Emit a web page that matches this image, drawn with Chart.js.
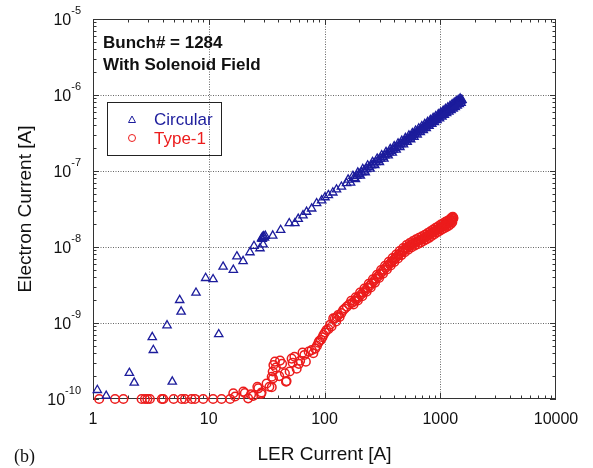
<!DOCTYPE html>
<html>
<head>
<meta charset="utf-8">
<script src="https://cdn.jsdelivr.net/npm/chart.js@4.4.1/dist/chart.umd.min.js"></script>
<style>
  html, body { margin: 0; padding: 0; background: #fff; }
</style>
</head>
<body>
<canvas id="myChart" width="593" height="468"></canvas>
<script>
// Circular chamber (triangles)
let circX = [1.09, 1.3, 2.06, 2.27, 3.25, 3.32, 4.36, 4.84, 5.61, 5.77,
  7.76, 9.4, 10.9, 12.2, 13.3, 16.3, 17.5, 19.8, 22.7, 24.6,
  27.7, 29.5, 28.6, 29.2, 29.8, 30.3, 29.0, 30.8, 35.7, 41.8,
  49.6, 55.5, 59.3, 65.2, 70, 77.5, 85.5, 94.5, 101, 108,
  118, 127, 140, 155,
  160, 168, 176, 185, 194, 204, 214, 225, 236, 248,
  260, 272, 285, 298, 312, 326, 340, 355, 370, 385,
  400, 416, 432, 448, 465, 482, 500, 518, 536, 555,
  574, 593, 612, 632, 652, 672, 693, 714, 735, 756,
  778, 800, 822, 845, 868, 891, 914, 938, 962, 986,
  1010, 1035, 1060, 1085, 1110, 1136, 1162, 1188, 1214, 1240,
  1267, 1294, 1321, 1348, 1375, 1402, 1430, 1458, 1486, 1514,
  1540,
  180, 190, 199, 209, 220, 230, 242, 254, 266, 278,
  291, 305, 319, 333, 347, 362, 377, 392, 408, 424,
  440, 456, 473, 491, 509, 527, 545, 564, 583, 602,
  622, 642, 662, 682, 703, 724, 745, 767, 789, 811,
  833, 856, 879, 902, 926, 950, 974, 998, 1022, 1047,
  1072, 1097, 1123, 1149, 1175, 1201, 1227, 1253, 1280, 1307,
  1334, 1361, 1388, 1416, 1444, 1472, 1500, 1527];
let circY = [1.31e-10, 1.1e-10, 2.2e-10, 1.64e-10, 6.5e-10, 4.4e-10, 9.3e-10, 1.69e-10, 2.0e-9, 1.41e-9,
  2.5e-9, 3.9e-9, 3.76e-9, 7.1e-10, 5.5e-9, 5.0e-9, 7.5e-9, 6.5e-9, 8.5e-9, 1.03e-8,
  9.6e-9, 1.08e-8, 1.3e-8, 1.35e-8, 1.38e-8, 1.33e-8, 1.28e-8, 1.4e-8, 1.41e-8, 1.67e-8,
  2.05e-8, 2.05e-8, 2.34e-8, 2.6e-8, 2.9e-8, 3.2e-8, 3.76e-8, 4.1e-8, 4.5e-8, 4.8e-8,
  5.2e-8, 5.7e-8, 6.2e-8, 6.9e-8,
  7.7e-8, 7.0e-8, 8.6e-8, 7.8e-8, 9.5e-8, 8.7e-8, 1.06e-7, 9.6e-8, 1.18e-7, 1.07e-7,
  1.31e-7, 1.19e-7, 1.45e-7, 1.31e-7, 1.61e-7, 1.45e-7, 1.77e-7, 1.60e-7, 1.94e-7, 1.74e-7,
  2.11e-7, 1.90e-7, 2.30e-7, 2.06e-7, 2.49e-7, 2.23e-7, 2.70e-7, 2.42e-7, 2.92e-7, 2.61e-7,
  3.14e-7, 2.81e-7, 3.38e-7, 3.01e-7, 3.62e-7, 3.23e-7, 3.87e-7, 3.45e-7, 4.13e-7, 3.67e-7,
  4.39e-7, 3.91e-7, 4.67e-7, 4.15e-7, 4.96e-7, 4.39e-7, 5.25e-7, 4.65e-7, 5.55e-7, 4.91e-7,
  5.85e-7, 5.18e-7, 6.17e-7, 5.45e-7, 6.50e-7, 5.74e-7, 6.83e-7, 6.02e-7, 7.17e-7, 6.32e-7,
  7.51e-7, 6.62e-7, 7.86e-7, 6.93e-7, 8.23e-7, 7.24e-7, 8.59e-7, 7.55e-7, 8.96e-7, 7.87e-7,
  8.6e-7,
  8.1e-8, 8.63e-8, 9.07e-8, 9.57e-8, 1.01e-7, 1.06e-7, 1.12e-7, 1.18e-7, 1.25e-7, 1.31e-7,
  1.38e-7, 1.45e-7, 1.52e-7, 1.60e-7, 1.67e-7, 1.75e-7, 1.83e-7, 1.91e-7, 2.0e-7, 2.08e-7,
  2.17e-7, 2.26e-7, 2.35e-7, 2.45e-7, 2.55e-7, 2.65e-7, 2.75e-7, 2.86e-7, 2.96e-7, 3.07e-7,
  3.18e-7, 3.29e-7, 3.41e-7, 3.52e-7, 3.64e-7, 3.76e-7, 3.88e-7, 4.01e-7, 4.13e-7, 4.26e-7,
  4.39e-7, 4.52e-7, 4.65e-7, 4.79e-7, 4.93e-7, 5.07e-7, 5.21e-7, 5.34e-7, 5.49e-7, 5.64e-7,
  5.78e-7, 5.93e-7, 6.09e-7, 6.24e-7, 6.40e-7, 6.56e-7, 6.72e-7, 6.87e-7, 7.03e-7, 7.19e-7,
  7.36e-7, 7.53e-7, 7.70e-7, 7.87e-7, 8.04e-7, 8.21e-7, 8.37e-7, 8.54e-7];

// Type-1 chamber (circles)
let typeX = [1.13, 1.55, 1.83, 2.63, 2.81, 2.95, 3.1, 3.93, 4.05, 4.97,
  5.84, 6.23, 7.1, 7.6, 8.95, 10.9, 12.9, 15.3,
  16.3, 16.9, 19.9, 20.5, 21.9, 23.2, 24.2, 26.3, 26.8, 28.3,
  28.6, 31.6, 33.4, 35.0, 35.0, 35.7, 35.9, 36.2, 37.3, 40.6,
  41.3, 45.5, 46.5, 47.0, 52, 53, 57.5, 61.6, 64.6, 69,
  77.5, 83, 88.6, 90, 96, 101, 104, 108, 115, 119,
  123, 126, 131, 135, 140, 145, 150, 156, 163,
  38, 43, 50, 55, 60, 67, 73, 80, 86, 93,
  98, 112, 128,
  170, 178, 186, 194, 203, 212, 221, 231, 241, 251,
  262, 273, 284, 296, 308, 320, 333, 346, 359, 373,
  387, 401, 416, 431, 446, 462, 478, 494, 511, 528,
  545, 563, 581, 599, 618, 637, 656, 676, 696, 716,
  737, 758, 779, 801, 823, 845, 868, 891, 914, 938,
  962, 986, 1010, 1035, 1060, 1085, 1110, 1135, 1160, 1185,
  1210, 1235, 1255, 1270, 1285, 1300,
  174, 182, 190, 198, 207, 216, 226, 236, 246, 256,
  267, 278, 290, 302, 314, 326, 339, 352, 366, 380,
  394, 408, 423, 438, 454, 470, 486, 502, 519, 536,
  554, 572, 590, 608, 627, 646, 666, 686, 706, 726,
  747, 768, 790, 812, 834, 856, 880, 902, 926, 950,
  974, 998, 1022, 1047, 1072, 1097, 1122, 1147, 1172, 1197,
  1222, 1245, 1262, 1278, 1292];
let typeY = [1e-10, 1e-10, 1e-10, 1e-10, 1e-10, 1e-10, 1e-10, 1e-10, 1e-10, 1e-10,
  1e-10, 1e-10, 1e-10, 1e-10, 1e-10, 1e-10, 1e-10, 1e-10,
  1.19e-10, 1.08e-10, 1.25e-10, 1.2e-10, 1.02e-10, 1.15e-10, 1.1e-10, 1.45e-10, 1.38e-10, 1.17e-10,
  1.22e-10, 1.6e-10, 1.45e-10, 1.43e-10, 1.96e-10, 2.3e-10, 1.87e-10, 2.8e-10, 3.1e-10, 2.0e-10,
  3.2e-10, 2.18e-10, 1.69e-10, 1.72e-10, 3.4e-10, 3.0e-10, 2.5e-10, 3.19e-10, 4.07e-10, 3.1e-10,
  4.4e-10, 4.6e-10, 5.5e-10, 5.8e-10, 6.5e-10, 7.5e-10, 8.1e-10, 8.3e-10, 9.0e-10, 1.15e-9,
  1.15e-9, 1.05e-9, 1.27e-9, 1.2e-9, 1.35e-9, 1.48e-9, 1.55e-9, 1.64e-9, 1.75e-9,
  2.6e-10, 2.9e-10, 2.3e-10, 3.6e-10, 2.9e-10, 3.8e-10, 4.2e-10, 4.0e-10, 5.0e-10, 6.0e-10,
  7.0e-10, 9.5e-10, 1.2e-9,
  1.96e-9, 1.75e-9, 2.18e-9, 1.98e-9, 2.51e-9, 2.25e-9, 2.83e-9, 2.58e-9, 3.27e-9, 2.94e-9,
  3.76e-9, 3.40e-9, 4.31e-9, 3.91e-9, 4.96e-9, 4.46e-9, 5.67e-9, 5.06e-9, 6.38e-9, 5.70e-9,
  7.14e-9, 6.35e-9, 7.96e-9, 7.08e-9, 8.83e-9, 7.82e-9, 9.70e-9, 8.56e-9, 1.06e-8, 9.2e-9,
  1.13e-8, 9.84e-9, 1.20e-8, 1.04e-8, 1.26e-8, 1.09e-8, 1.32e-8, 1.14e-8, 1.38e-8, 1.20e-8,
  1.45e-8, 1.26e-8, 1.53e-8, 1.32e-8, 1.61e-8, 1.40e-8, 1.70e-8, 1.47e-8, 1.79e-8, 1.55e-8,
  1.87e-8, 1.63e-8, 1.97e-8, 1.70e-8, 2.05e-8, 1.77e-8, 2.14e-8, 1.84e-8, 2.22e-8, 1.91e-8,
  2.31e-8, 2.01e-8, 2.44e-8, 2.12e-8, 2.50e-8, 2.40e-8,
  1.85e-9, 1.95e-9, 2.08e-9, 2.22e-9, 2.37e-9, 2.52e-9, 2.7e-9, 2.9e-9, 3.1e-9, 3.32e-9,
  3.57e-9, 3.82e-9, 4.1e-9, 4.4e-9, 4.7e-9, 5.02e-9, 5.35e-9, 5.67e-9, 6.02e-9, 6.38e-9,
  6.72e-9, 7.1e-9, 7.5e-9, 7.9e-9, 8.3e-9, 8.7e-9, 9.1e-9, 9.5e-9, 9.85e-9, 1.02e-8,
  1.055e-8, 1.085e-8, 1.115e-8, 1.145e-8, 1.175e-8, 1.2e-8, 1.225e-8, 1.255e-8, 1.285e-8, 1.315e-8,
  1.35e-8, 1.385e-8, 1.42e-8, 1.46e-8, 1.5e-8, 1.54e-8, 1.58e-8, 1.62e-8, 1.66e-8, 1.7e-8,
  1.745e-8, 1.79e-8, 1.83e-8, 1.865e-8, 1.9e-8, 1.94e-8, 1.98e-8, 2.02e-8, 2.06e-8, 2.1e-8,
  2.15e-8, 2.21e-8, 2.27e-8, 2.33e-8, 2.4e-8];

let xTickVals = [1, 10, 100, 1000, 10000];
let yTickExps = [-10, -9, -8, -7, -6, -5];

const FONT = "'Liberation Sans', Arial, sans-serif";
const BLUE = '#1c1c9c';
const RED = '#ec1c1c';

function pts(xs, ys) {
  return xs.map((x, i) => ({x: x, y: ys[i]}));
}

// grid, frame and inward ticks
const framePlugin = {
  id: 'frame',
  beforeDatasetsDraw(chart) {
    const {ctx, chartArea: a, scales: {x, y}} = chart;
    ctx.save();
    ctx.strokeStyle = '#666';
    ctx.lineWidth = 1;
    ctx.setLineDash([1, 1.5]);
    xTickVals.forEach(v => {
      const px = Math.round(x.getPixelForValue(v)) + 0.5;
      if (px < a.left + 2 || px > a.right - 2) return;
      ctx.beginPath(); ctx.moveTo(px, a.top); ctx.lineTo(px, a.bottom); ctx.stroke();
    });
    yTickExps.forEach(e => {
      const py = Math.round(y.getPixelForValue(Math.pow(10, e))) + 0.5;
      if (py < a.top + 2 || py > a.bottom - 2) return;
      ctx.beginPath(); ctx.moveTo(a.left, py); ctx.lineTo(a.right, py); ctx.stroke();
    });
    ctx.setLineDash([]);

    ctx.strokeStyle = '#333';
    ctx.beginPath();
    for (let d = 0; d < 4; d++) {
      for (let m = 1; m <= 9; m++) {
        const px = Math.round(x.getPixelForValue(m * Math.pow(10, d))) + 0.5;
        const len = m === 1 ? 6 : 3.5;
        ctx.moveTo(px, a.bottom); ctx.lineTo(px, a.bottom - len);
        ctx.moveTo(px, a.top); ctx.lineTo(px, a.top + len);
      }
    }
    for (let e = -10; e < -5; e++) {
      for (let m = 1; m <= 9; m++) {
        const py = Math.round(y.getPixelForValue(m * Math.pow(10, e))) + 0.5;
        const len = m === 1 ? 6 : 3.5;
        ctx.moveTo(a.left, py); ctx.lineTo(a.left + len, py);
        ctx.moveTo(a.right, py); ctx.lineTo(a.right - len, py);
      }
    }
    ctx.stroke();
    ctx.strokeRect(Math.round(a.left) + 0.5, Math.round(a.top) + 0.5,
      Math.round(a.width) - 1, Math.round(a.height) - 1);
    ctx.restore();
  },
  afterDraw(chart) {
    const {ctx, chartArea: a, scales: {x, y}} = chart;
    ctx.save();
    ctx.fillStyle = '#111';

    // x tick labels
    ctx.font = '16px ' + FONT;
    ctx.textAlign = 'center';
    ctx.textBaseline = 'middle';
    xTickVals.forEach(v => {
      ctx.fillText(String(v), x.getPixelForValue(v), a.bottom + 21);
    });

    // y tick labels 10^n
    ctx.textBaseline = 'alphabetic';
    yTickExps.forEach(e => {
      const py = y.getPixelForValue(Math.pow(10, e));
      const sup = '-' + Math.abs(e);
      ctx.font = '11px ' + FONT;
      const sw = ctx.measureText(sup).width;
      ctx.textAlign = 'left';
      ctx.fillText(sup, 81 - sw, py - 5);
      ctx.font = '16px ' + FONT;
      ctx.textAlign = 'right';
      ctx.fillText('10', 81 - sw, py + 5.5);
    });

    // annotation
    ctx.textAlign = 'left';
    ctx.font = 'bold 17px ' + FONT;
    ctx.fillText('Bunch# = 1284', 103, 48);
    ctx.fillText('With Solenoid Field', 103, 70);

    // legend box
    ctx.strokeStyle = '#222';
    ctx.lineWidth = 1;
    ctx.strokeRect(107.5, 102.5, 114, 53);
    ctx.strokeStyle = BLUE;
    ctx.beginPath();
    ctx.moveTo(132, 116); ctx.lineTo(135.5, 122.5); ctx.lineTo(128.5, 122.5); ctx.closePath();
    ctx.stroke();
    ctx.strokeStyle = RED;
    ctx.beginPath();
    ctx.arc(132, 138, 3.5, 0, Math.PI * 2);
    ctx.stroke();
    ctx.font = '17px ' + FONT;
    ctx.textBaseline = 'middle';
    ctx.fillStyle = BLUE;
    ctx.fillText('Circular', 154, 120);
    ctx.fillStyle = RED;
    ctx.fillText('Type-1', 154, 139);

    // panel label
    ctx.fillStyle = '#111';
    ctx.font = "18px 'Liberation Serif', 'Times New Roman', serif";
    ctx.textBaseline = 'alphabetic';
    ctx.fillText('(b)', 14, 462);
    ctx.restore();
  }
};

let ctx1 = document.getElementById('myChart').getContext('2d');
let myChart = new Chart(ctx1, {
  type: 'scatter',
  data: {
    datasets: [{
      label: 'Circular',
      data: pts(circX, circY),
      pointStyle: 'triangle',
      pointRadius: 4.8,
      pointBorderWidth: 1.3,
      borderColor: BLUE,
      pointBorderColor: BLUE,
      backgroundColor: 'rgba(0,0,0,0)',
      pointBackgroundColor: 'rgba(0,0,0,0)',
      showLine: false,
      clip: false
    }, {
      label: 'Type-1',
      data: pts(typeX, typeY),
      pointStyle: 'circle',
      pointRadius: 4.3,
      pointBorderWidth: 1.5,
      borderColor: RED,
      pointBorderColor: RED,
      backgroundColor: 'rgba(0,0,0,0)',
      pointBackgroundColor: 'rgba(0,0,0,0)',
      showLine: false,
      clip: false
    }]
  },
  options: {
    responsive: false,
    animation: false,
    events: [],
    layout: { padding: { top: 19, right: 37, left: 0, bottom: 0 } },
    scales: {
      x: {
        type: 'logarithmic',
        min: 1,
        max: 10000,
        ticks: { display: false },
        grid: { display: false },
        border: { display: false },
        title: {
          display: true,
          text: 'LER Current [A]',
          color: '#111',
          font: { family: FONT, size: 19 },
          padding: { top: 0, bottom: 2 }
        },
        afterFit: (scale) => { scale.height = 69; }
      },
      y: {
        type: 'logarithmic',
        min: 1e-10,
        max: 1e-5,
        ticks: { display: false },
        grid: { display: false },
        border: { display: false },
        title: {
          display: true,
          text: 'Electron Current [A]',
          color: '#111',
          font: { family: FONT, size: 19 },
          padding: { top: 14, bottom: 0 }
        },
        afterFit: (scale) => { scale.width = 93; }
      }
    },
    plugins: {
      legend: { display: false },
      tooltip: { enabled: false }
    }
  },
  plugins: [framePlugin]
});
</script>
</body>
</html>
